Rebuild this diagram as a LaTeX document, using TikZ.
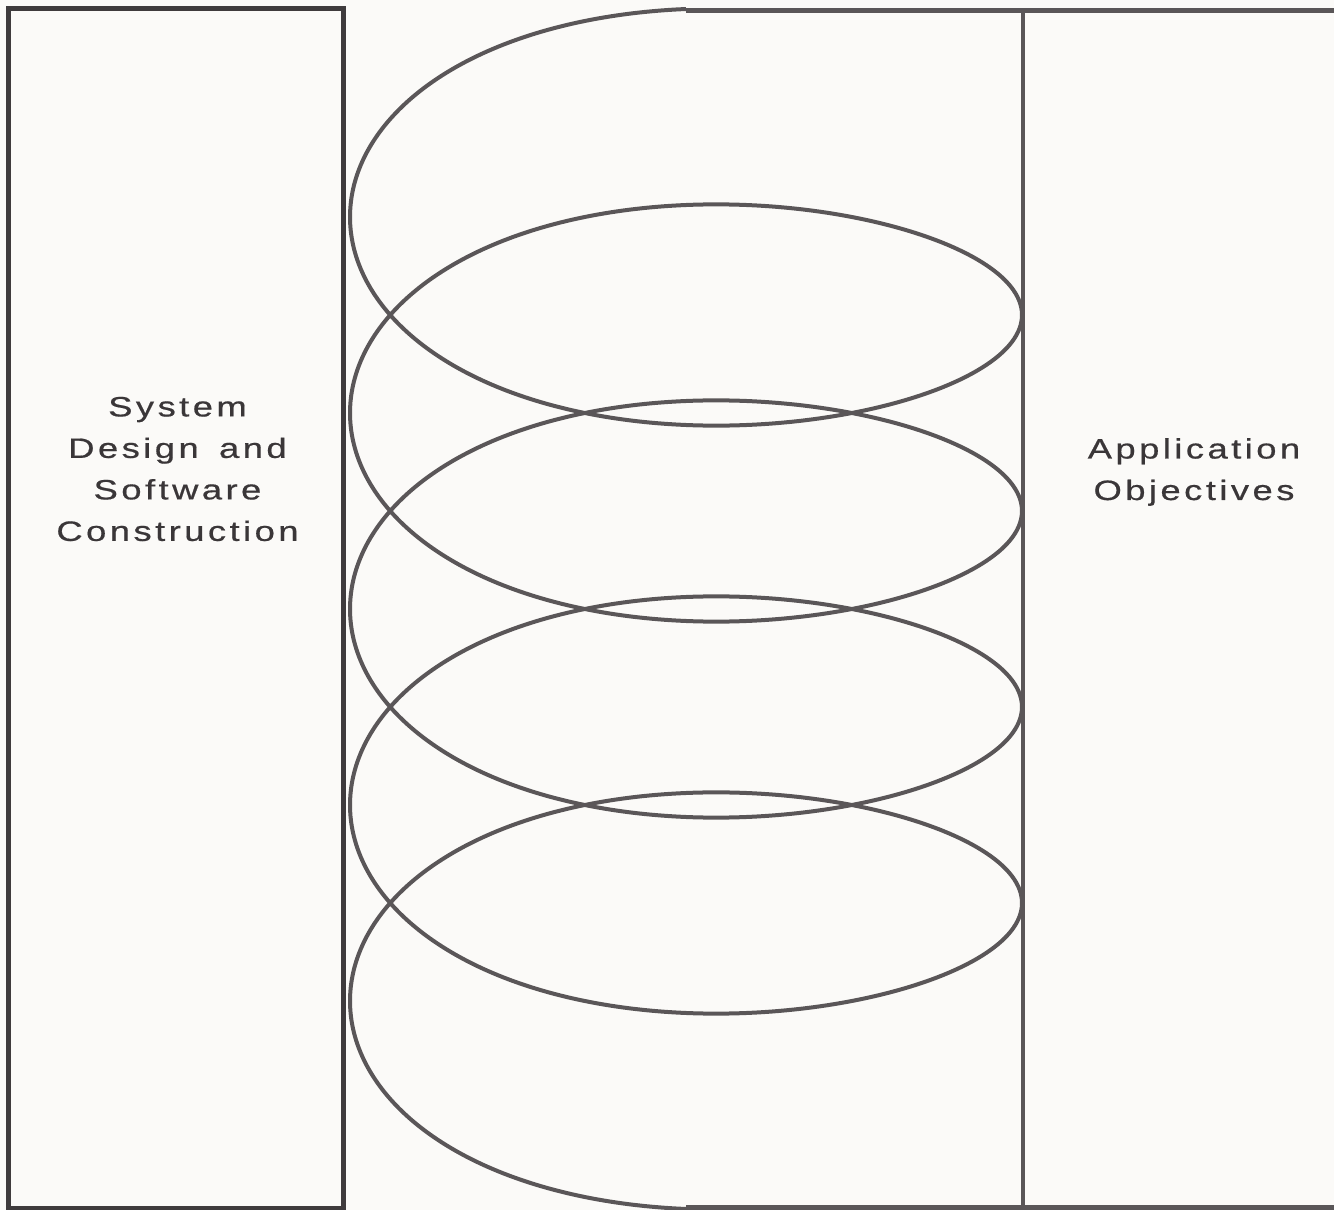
\documentclass[tikz,border=0pt]{standalone}
\usepackage{fontspec}
\setmainfont{Liberation Sans}[FakeStretch=1.3, LetterSpace=12.3, WordSpace=1.5, FakeBold=0.6]
\definecolor{paper}{HTML}{FBFAF8}
\definecolor{boxline}{HTML}{3F3B3D}
\definecolor{coil}{HTML}{5A5658}
\definecolor{txt}{HTML}{3A3638}
\tikzset{
  boxedge/.style={draw=boxline, line width=5pt},
  sideline/.style={draw=coil, line width=4.2pt},
  coilline/.style={draw=coil, line width=4pt, line join=round},
  label/.style={text=txt, font=\fontsize{28}{41.5}\selectfont, align=center, inner sep=0pt}
}
\begin{document}
\begin{tikzpicture}[x=1pt,y=-1pt]
\useasboundingbox[fill=paper] (0,0) rectangle (1334,1210);
% left box
\node[boxedge, minimum width=335pt, minimum height=1200pt, inner sep=0pt] (sys) at (175.5,608) {};
\node[label] (systxt) at (177.5,469) {System\\Design and\\Software\\Construction};
% right box (open to the right and the coil)
\coordinate (rtopL) at (686,10.5);
\coordinate (rtopR) at (1334,10.5);
\coordinate (rbotL) at (686,1207.5);
\coordinate (rbotR) at (1334,1207.5);
\coordinate (rvtop) at (1023,10.5);
\coordinate (rvbot) at (1023,1207.5);
\draw[sideline] (rtopL) -- (rtopR);
\draw[sideline] (rbotL) -- (rbotR);
\draw[sideline, line width=3.8pt] (rvtop) -- (rvbot);
\node[label] (apptxt) at (1194,472) {Application\\Objectives};
% coil
\draw[coilline] plot[domain=-90:1530, samples=900, variable=\t, smooth]
  ({686-336*cos(\t)}, {217+0.54444*\t+159*sin(\t)+8.6*sin(2*\t)});
\end{tikzpicture}
\end{document}
